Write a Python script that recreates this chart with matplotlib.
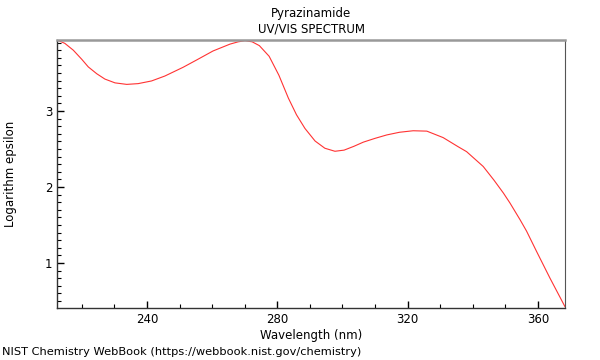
import matplotlib
matplotlib.use("Agg")
import matplotlib.pyplot as plt
from matplotlib.ticker import MultipleLocator

# spectrum (nm, log epsilon)
wavelength = [212.4, 214.8, 217.4, 220.0, 222.0, 224.6, 227.1, 230.2, 233.8, 237.3,
              241.4, 245.5, 251.1, 255.2, 260.3, 265.5, 268.0, 270.1, 272.3, 274.5,
              277.5, 280.5, 283.4, 285.9, 288.5, 291.6, 294.6, 297.7, 300.5, 303.5,
              306.4, 310.0, 313.6, 317.5, 321.7, 325.9, 330.9, 335.5, 338.1, 343.2,
              346.5, 349.4, 351.4, 354.5, 356.5, 359.6, 363.7, 368.3]
log_eps = [3.934, 3.89, 3.80, 3.68, 3.58, 3.49, 3.42, 3.37, 3.35, 3.36,
           3.395, 3.46, 3.575, 3.67, 3.79, 3.88, 3.91, 3.925, 3.91, 3.86,
           3.72, 3.47, 3.17, 2.95, 2.77, 2.605, 2.51, 2.47, 2.485, 2.535,
           2.59, 2.64, 2.685, 2.72, 2.74, 2.735, 2.65, 2.53, 2.465, 2.27,
           2.09, 1.92, 1.79, 1.57, 1.42, 1.15, 0.80, 0.425]

xticks = [240, 280, 320, 360]
yticks = [1, 2, 3]

fig = plt.figure(figsize=(6, 3.6), dpi=100)
ax = fig.add_axes([57 / 600, 1 - 308 / 360, 508 / 600, 268 / 360])
ax.plot(wavelength, log_eps, color="#ff3333", lw=0.8)

ax.set_xlim(212.4, 368.3)
ax.set_ylim(0.408, 3.934)
ax.set_xticks(xticks)
ax.set_yticks(yticks)
ax.xaxis.set_minor_locator(MultipleLocator(10))
ax.yaxis.set_minor_locator(MultipleLocator(0.1))
ax.tick_params(which="both", direction="in", labelsize=8.5, top=False, right=False)
ax.tick_params(which="major", length=5, width=1)
ax.tick_params(which="minor", length=3, width=0.8)

ax.spines["top"].set_color("#999999")
ax.spines["top"].set_linewidth(1.8)
ax.spines["right"].set_color("#555555")
ax.spines["right"].set_linewidth(0.8)
for s in ["left", "bottom"]:
    ax.spines[s].set_color("#333333")
    ax.spines[s].set_linewidth(1)

ax.set_xlabel("Wavelength (nm)", fontsize=8.5, labelpad=2)
ax.set_ylabel("Logarithm epsilon", fontsize=8.5, labelpad=20)

fig.text(311 / 600, 1 - 13 / 360, "Pyrazinamide", ha="center", va="center", fontsize=8.5)
fig.text(311 / 600, 1 - 29 / 360, "UV/VIS SPECTRUM", ha="center", va="center", fontsize=8.5)
fig.text(2 / 600, 1 - 352 / 360, "NIST Chemistry WebBook (https://webbook.nist.gov/chemistry)",
         ha="left", va="center", fontsize=8.2)

fig.savefig("out.png", dpi=100)
